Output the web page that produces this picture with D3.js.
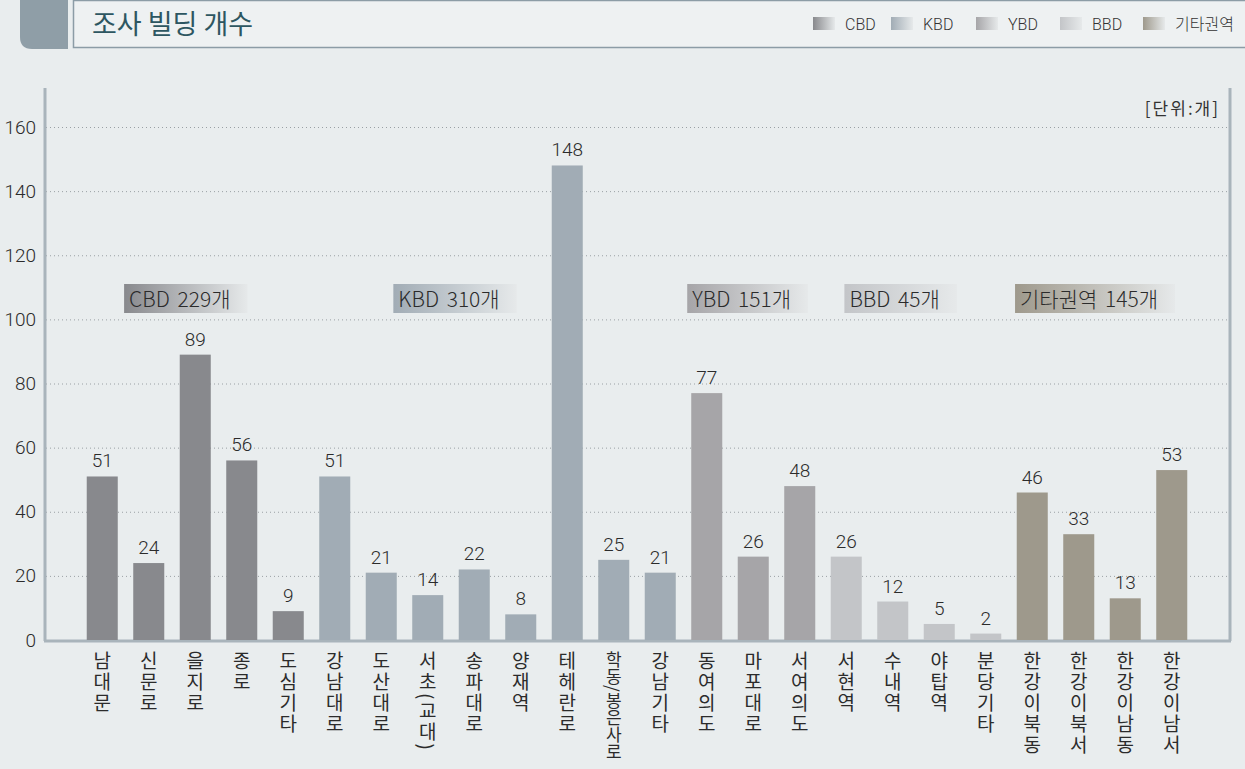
<!DOCTYPE html>
<html>
<head>
<meta charset="utf-8">
<script src="https://cdn.jsdelivr.net/npm/d3@7"></script>
<style>
  body { margin: 0; background: #e9edee; }
  svg { display: block; }
  text { font-family: "Roboto", "Noto Sans CJK KR", sans-serif; font-weight: 300; fill: #2b2b2b; }
  .kr { font-family: "Noto Sans CJK KR", sans-serif; font-weight: 400; }
</style>
</head>
<body>
<div id="chart"></div>
<script>
// data
const categories = ["남대문", "신문로", "을지로", "종로", "도심기타",
  "강남대로", "도산대로", "서초(교대)", "송파대로", "양재역", "테헤란로", "학동/봉은사로", "강남기타",
  "동여의도", "마포대로", "서여의도",
  "서현역", "수내역", "야탑역", "분당기타",
  "한강이북동", "한강이북서", "한강이남동", "한강이남서"];
const values = [51, 24, 89, 56, 9, 51, 21, 14, 22, 8, 148, 25, 21, 77, 26, 48, 26, 12, 5, 2, 46, 33, 13, 53];
const regionOf = ["CBD", "CBD", "CBD", "CBD", "CBD",
  "KBD", "KBD", "KBD", "KBD", "KBD", "KBD", "KBD", "KBD",
  "YBD", "YBD", "YBD",
  "BBD", "BBD", "BBD", "BBD",
  "기타권역", "기타권역", "기타권역", "기타권역"];
const regions = ["CBD", "KBD", "YBD", "BBD", "기타권역"];
const regionTotals = [229, 310, 151, 45, 145];
const yTicks = [0, 20, 40, 60, 80, 100, 120, 140, 160];

const regionColor = {
  "CBD": "#88898d",
  "KBD": "#a1acb5",
  "YBD": "#a6a5a8",
  "BBD": "#c3c5c8",
  "기타권역": "#9e998c"
};
// where each group tag sits, in bar-index units
const tagPos = [0.47, 6.26, 12.58, 15.96, 19.63];

const width = 1245, height = 769;
const svg = d3.select("#chart").append("svg")
  .attr("width", width).attr("height", height);

const defs = svg.append("defs");
regions.forEach((r, i) => {
  const g = defs.append("linearGradient").attr("id", "grad" + i);
  g.append("stop").attr("offset", "0%").attr("stop-color", regionColor[r]);
  g.append("stop").attr("offset", "100%").attr("stop-color", "#e6e9ea");
});

// header
svg.append("path")
  .attr("d", "M20,0 H68 V49 H32 Q20,49 20,37 Z")
  .attr("fill", "#8f9ea7");
svg.append("rect")
  .attr("x", 73.5).attr("y", 0.5).attr("width", 1180).attr("height", 47)
  .attr("fill", "#eef1f2").attr("stroke", "#8c9ca6").attr("stroke-width", 1.5);
svg.append("text").attr("class", "kr")
  .attr("x", 92).attr("y", 34)
  .attr("font-size", 27).style("fill", "#2d5661")
  .text("조사 빌딩 개수");

// legend
const legendX = [813, 891, 976, 1060, 1143];
regions.forEach((r, i) => {
  svg.append("rect")
    .attr("x", legendX[i]).attr("y", 17).attr("width", 22).attr("height", 13)
    .attr("fill", "url(#grad" + i + ")");
  svg.append("text")
    .attr("class", i === 4 ? "kr" : null)
    .attr("x", legendX[i] + 32).attr("y", 29.5)
    .attr("font-size", 16).style("fill", "#333")
    .style("font-weight", 300)
    .text(r);
});

// scales
const x = d3.scaleBand().domain(categories).range([79, 1195]).paddingInner(0.333).paddingOuter(0.1665);
const y = d3.scaleLinear().domain([0, 160]).range([640, 127]);
const step = x.step();
const centerAt = i => x(categories[0]) + x.bandwidth() / 2 + i * step;

// grid
svg.append("g").selectAll("line").data(yTicks.filter(d => d > 0)).join("line")
  .attr("x1", 46).attr("x2", 1229)
  .attr("y1", d => y(d) + 0.5).attr("y2", d => y(d) + 0.5)
  .attr("stroke", "#9aa0a4").attr("stroke-width", 1).attr("stroke-dasharray", "1,3");

// y axis labels
const yAxis = svg.append("g").attr("transform", "translate(45,0)")
  .call(d3.axisLeft(y).tickValues(yTicks).tickSize(0).tickPadding(9));
yAxis.select(".domain").remove();
yAxis.selectAll("text").attr("font-size", 19).style("fill", "#2b2b2b")
  .attr("font-family", null);

// frame lines
svg.append("line").attr("x1", 45).attr("x2", 45).attr("y1", 88).attr("y2", 641)
  .attr("stroke", "#a9b4bb").attr("stroke-width", 3);
svg.append("line").attr("x1", 1230).attr("x2", 1230).attr("y1", 88).attr("y2", 641)
  .attr("stroke", "#a9b4bb").attr("stroke-width", 3);
svg.append("line").attr("x1", 44).attr("x2", 1231).attr("y1", 641).attr("y2", 641)
  .attr("stroke", "#a9b4bb").attr("stroke-width", 3);

svg.append("text").attr("class", "kr")
  .attr("x", 1220).attr("y", 115).attr("text-anchor", "end")
  .attr("font-size", 17).style("fill", "#333").style("letter-spacing", "2px")
  .text("[단위:개]");

// bars
svg.append("g").selectAll("rect").data(values).join("rect")
  .attr("x", (d, i) => x(categories[i]))
  .attr("y", d => y(d))
  .attr("width", x.bandwidth())
  .attr("height", d => y(0) - y(d))
  .attr("fill", (d, i) => regionColor[regionOf[i]]);

// value labels
svg.append("g").selectAll("text").data(values).join("text")
  .attr("x", (d, i) => x(categories[i]) + x.bandwidth() / 2)
  .attr("y", d => y(d) - 9)
  .attr("text-anchor", "middle")
  .attr("font-size", 19)
  .text(d => d);

// category labels (vertical)
const labels = svg.append("g").selectAll("text").data(categories).join("text")
  .attr("class", "kr")
  .attr("x", d => x(d) + x.bandwidth() / 2)
  .attr("y", 651)
  .attr("font-size", 19)
  .style("writing-mode", "vertical-rl")
  .style("letter-spacing", "2px")
  .text(d => d);
// the long one gets a bit tighter so it stays on the page
labels.each(function () {
  if (this.getComputedTextLength() > 108) {
    d3.select(this).style("letter-spacing", "0px").attr("font-size", 17);
  }
});

// region tags
regions.forEach((r, i) => {
  const bx = centerAt(tagPos[i]);
  const g = svg.append("g");
  const rect = g.append("rect")
    .attr("x", bx).attr("y", 284).attr("height", 29)
    .attr("fill", "url(#grad" + i + ")");
  const t = g.append("text").attr("class", "kr")
    .attr("x", bx + 5).attr("y", 306.5)
    .attr("font-size", 21)
    .style("font-weight", 300)
    .style("word-spacing", "3px")
    .text(r + " " + regionTotals[i] + "개");
  const len = t.node().getComputedTextLength();
  rect.attr("width", len + 22);
});
</script>
</body>
</html>
